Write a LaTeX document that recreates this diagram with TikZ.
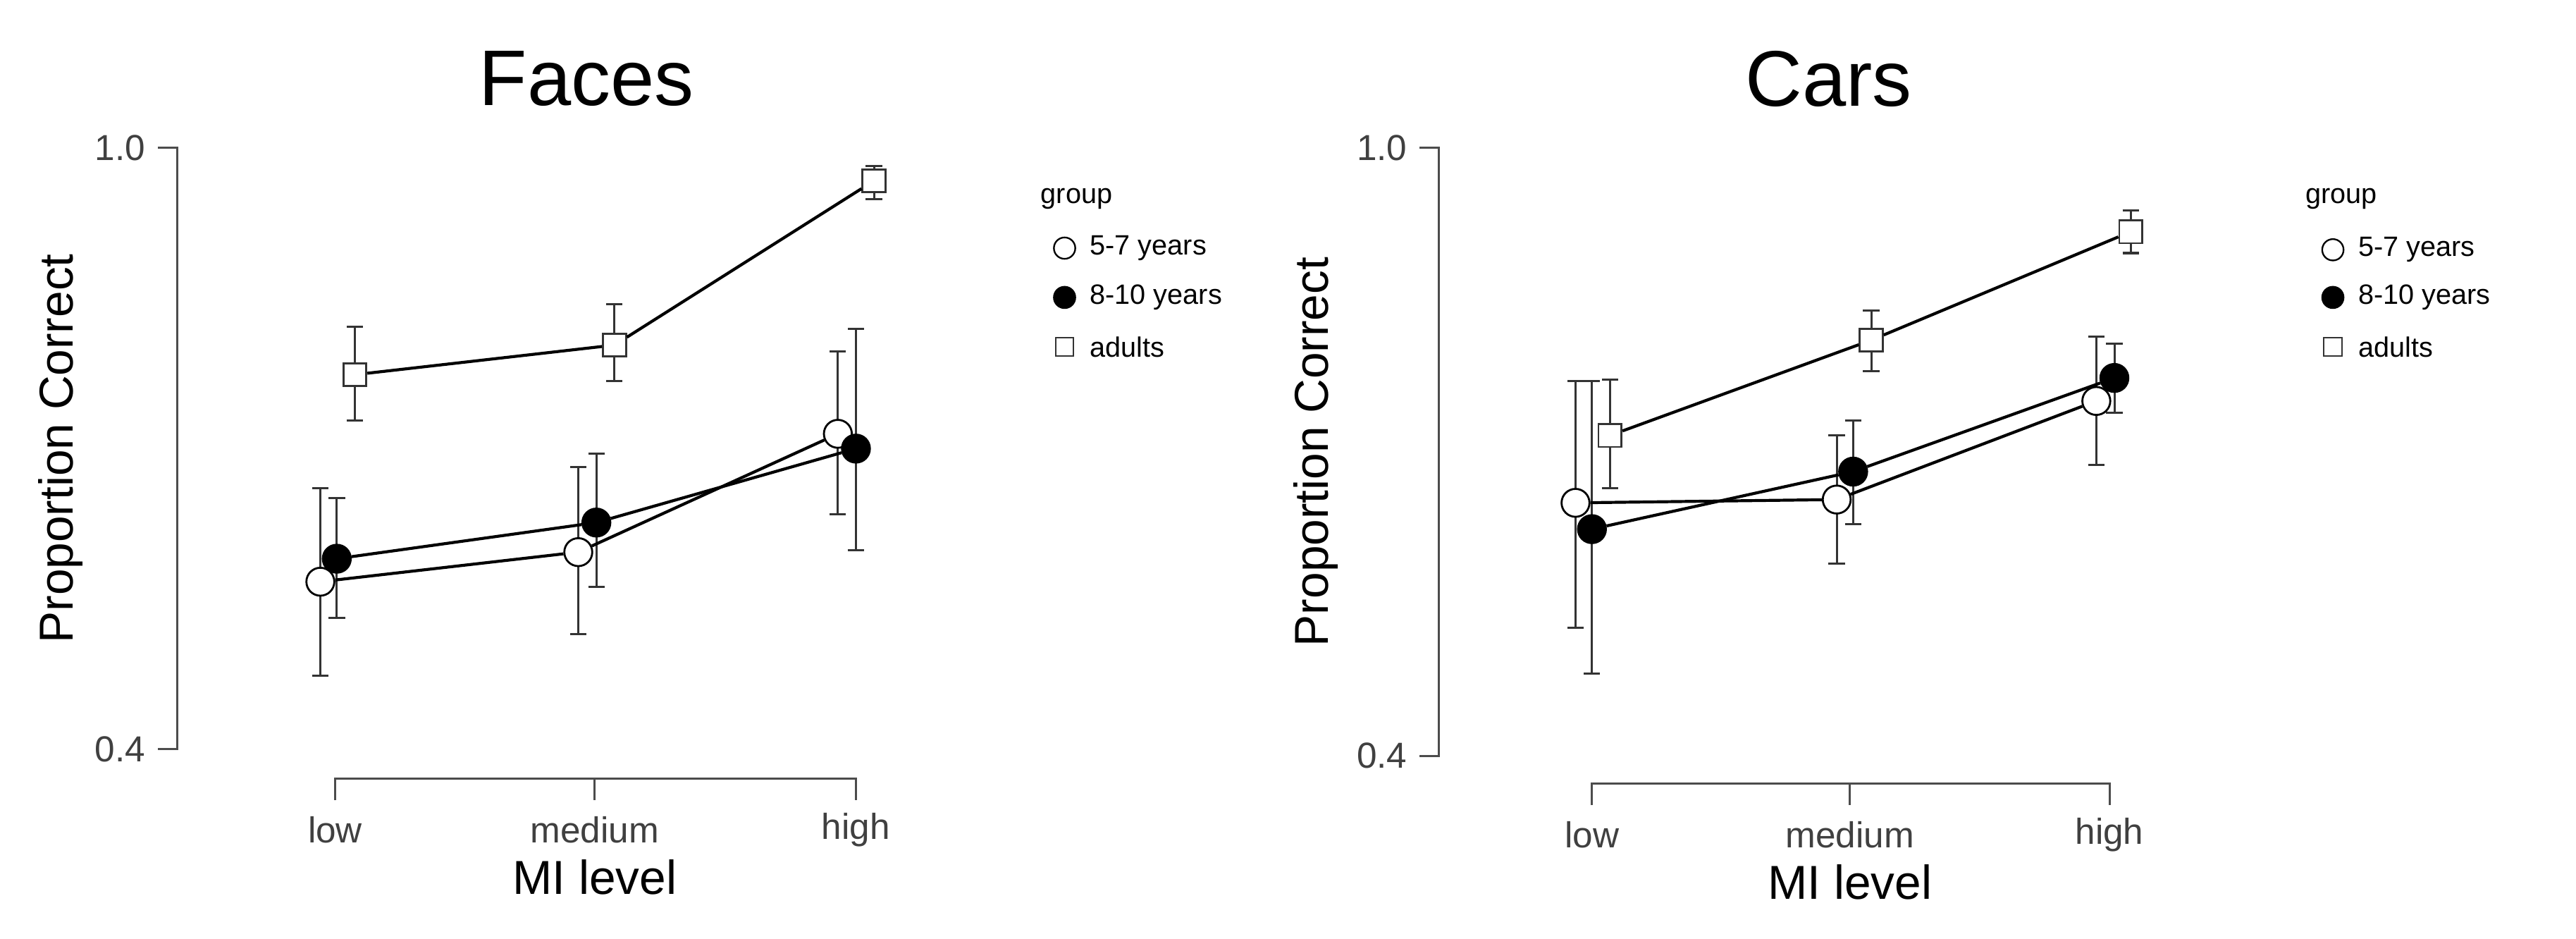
\documentclass[tikz,border=0pt]{standalone}
\usepackage{fontspec}
\setmainfont{Liberation Sans}
\begin{document}
\begin{tikzpicture}[x=1pt,y=-1pt,
  ax/.style={draw=black!70,line width=1.3pt},
  eb/.style={draw=black!80,line width=1.3pt},
  dl/.style={draw=black,line width=1.8pt},
  oc/.style={circle,draw=black,line width=1.2pt,fill=white,minimum size=17pt,inner sep=0pt},
  fc/.style={circle,draw=black,line width=1.2pt,fill=black,minimum size=17pt,inner sep=0pt},
  sq/.style={rectangle,draw=black!80,line width=1.2pt,fill=white,minimum size=14pt,inner sep=0pt},
  tl/.style={text=black!75,font=\fontsize{22}{26}\selectfont},
  lg/.style={font=\fontsize{17}{20}\selectfont,anchor=west},
  lgo/.style={circle,draw=black,line width=1pt,fill=white,minimum size=13pt,inner sep=0pt},
  lgf/.style={circle,draw=black,line width=1pt,fill=black,minimum size=13pt,inner sep=0pt},
  lgs/.style={rectangle,draw=black!80,line width=1pt,fill=white,minimum size=11pt,inner sep=0pt},
  ttl/.style={font=\fontsize{48}{56}\selectfont},
  axl/.style={font=\fontsize{29}{34}\selectfont}]
\useasboundingbox[fill=white] (0,0) rectangle (1568,571);
% ---------- Faces ----------
\node[ttl] (t1) at (357,48) {Faces};
\draw[ax] (96,90) -- (108,90) -- (108,456) -- (96,456);
\node[tl,anchor=east] (y1a) at (92,90) {1.0};
\node[tl,anchor=east] (y1b) at (92,456) {0.4};
\node[axl,rotate=90] (yl1) at (37,273) {Proportion Correct};
\draw[ax] (204,487) -- (204,474) -- (521,474) -- (521,487);
\draw[ax] (362,474) -- (362,487);
\node[tl] (x1a) at (204,505) {low};
\node[tl] (x1b) at (362,505) {medium};
\node[tl] (x1c) at (521,505) {high};
\node[axl] (xl1) at (362,534) {MI level};
% error bars
\foreach \x/\a/\b in {216/199/256,374/185/232,532/101/121,195/297/411,352/284/386,510/214/313,205/303/376,363/276/357,521/200/335}
  {\draw[eb] (\x-5,\a) -- (\x+5,\a) (\x,\a) -- (\x,\b) (\x-5,\b) -- (\x+5,\b);}
\node[sq] (fa1) at (216,228) {};
\node[sq] (fa2) at (374,210) {};
\node[sq] (fa3) at (532,110) {};
\node[oc] (fy1) at (195,354) {};
\node[oc] (fy2) at (352,336) {};
\node[oc] (fy3) at (510,264) {};
\node[fc] (fm1) at (205,340) {};
\node[fc] (fm2) at (363,318) {};
\node[fc] (fm3) at (521,273) {};
\draw[dl] (fa1) -- (fa2) -- (fa3);
\draw[dl] (fy1) -- (fy2) -- (fy3);
\draw[dl] (fm1) -- (fm2) -- (fm3);
\node[lg] (g1) at (630,121) {group};
\node[lgo] (l1a) at (648,151) {};
\node[lg] (l1at) at (660,151) {5-7 years};
\node[lgf] (l1b) at (648,181) {};
\node[lg] (l1bt) at (660,181) {8-10 years};
\node[lgs] (l1c) at (648,211) {};
\node[lg] (l1ct) at (660,211) {adults};
% ---------- Cars ----------
\node[ttl] (t2) at (1113,48) {Cars};
\draw[ax] (864,90) -- (876,90) -- (876,460) -- (864,460);
\node[tl,anchor=east] (y2a) at (860,90) {1.0};
\node[tl,anchor=east] (y2b) at (860,460) {0.4};
\node[axl,rotate=90] (yl2) at (801,275) {Proportion Correct};
\draw[ax] (969,490) -- (969,477) -- (1284,477) -- (1284,490);
\draw[ax] (1126,477) -- (1126,490);
\node[tl] (x2a) at (969,508) {low};
\node[tl] (x2b) at (1126,508) {medium};
\node[tl] (x2c) at (1284,508) {high};
\node[axl] (xl2) at (1126,537) {MI level};
\foreach \x/\a/\b in {980/231/297,1139/189/226,1297/128/154,959/232/382,1118/265/343,1276/205/283,969/232/410,1128/256/319,1287/209/251}
  {\draw[eb] (\x-5,\a) -- (\x+5,\a) (\x,\a) -- (\x,\b) (\x-5,\b) -- (\x+5,\b);}
\node[sq] (ca1) at (980,265) {};
\node[sq] (ca2) at (1139,207) {};
\node[sq] (ca3) at (1297,141) {};
\node[oc] (cy1) at (959,306) {};
\node[oc] (cy2) at (1118,304) {};
\node[oc] (cy3) at (1276,244) {};
\node[fc] (cm1) at (969,322) {};
\node[fc] (cm2) at (1128,287) {};
\node[fc] (cm3) at (1287,230) {};
\draw[dl] (ca1) -- (ca2) -- (ca3);
\draw[dl] (cy1) -- (cy2) -- (cy3);
\draw[dl] (cm1) -- (cm2) -- (cm3);
\node[lg] (g2) at (1400,121) {group};
\node[lgo] (l2a) at (1420,152) {};
\node[lg] (l2at) at (1432,152) {5-7 years};
\node[lgf] (l2b) at (1420,181) {};
\node[lg] (l2bt) at (1432,181) {8-10 years};
\node[lgs] (l2c) at (1420,211) {};
\node[lg] (l2ct) at (1432,211) {adults};
\end{tikzpicture}
\end{document}
